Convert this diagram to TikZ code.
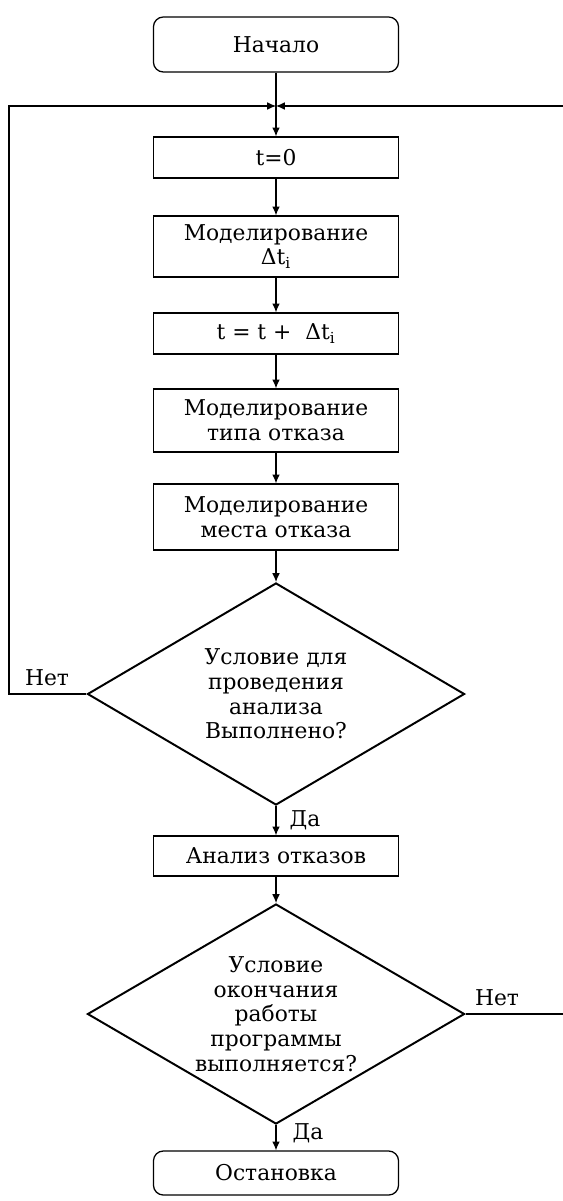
\documentclass[tikz,border=0pt]{standalone}
\usepackage{fontspec}
\setmainfont{DejaVu Serif}
\usetikzlibrary{arrows.meta,shapes.geometric}
\tikzset{
  block/.style={draw, line width=0.9pt, minimum width=6.125cm, align=center, inner sep=1pt},
  term/.style={block, rounded corners=7pt},
  decision/.style={diamond, aspect=1.7, draw, line width=1.4pt, minimum width=9.425cm,
    minimum height=5.5cm, align=center, inner sep=0pt},
  flow/.style={line width=0.75pt, -{Latex[length=2.2mm,width=1.9mm]}},
}
\begin{document}
\begin{tikzpicture}[x=0.025cm, y=-0.025cm, font=\fontsize{15.5}{17.5}\selectfont]
    \useasboundingbox (0,0) rectangle (563,1201);
    \clip (0,0) rectangle (563,1201);
    %%
    \node[term, minimum height=1.375cm] (start) at (276,44.5) {Начало};
    \node[block, minimum height=1.025cm] (tzero) at (276,157.5) {t=0};
    \node[block, minimum height=1.525cm] (simdt) at (276,246.5) {Моделирование\\Δt\textsubscript{i}};
    \node[block, minimum height=1.025cm] (tstep) at (276,333.5) {t = t +\ \ Δt\textsubscript{i}};
    \node[block, minimum height=1.575cm] (simtype) at (276,420.5) {Моделирование\\типа отказа};
    \node[block, minimum height=1.65cm] (simplace) at (276,517) {Моделирование\\места отказа};
    \node[decision, minimum height=5.55cm] (analyse) at (276,694) {Условие для\\проведения\\анализа\\Выполнено?};
    \node[block, minimum height=1.0cm] (faults) at (276,856) {Анализ отказов};
    \node[decision] (finish) at (276,1014) {Условие\\окончания\\работы\\программы\\выполняется?};
    \node[term, minimum height=1.1cm] (stop) at (276,1173) {Остановка};
    %%
    \coordinate (merge) at (276,106);
    \coordinate (loopL) at (9,106);
    \coordinate (loopR) at (570,106);
    %%
    \draw[flow] (start) -- (tzero);
    \draw[flow] (tzero) -- (simdt);
    \draw[flow] (simdt) -- (tstep);
    \draw[flow] (tstep) -- (simtype);
    \draw[flow] (simtype) -- (simplace);
    \draw[flow] (simplace) -- (analyse);
    \draw[flow] (analyse) -- (faults);
    \draw[flow] (faults) -- (finish);
    \draw[flow] (finish) -- (stop);
    \draw[flow] (analyse.west) -| (loopL) -- (merge);
    \draw[flow] (finish.east) -| (loopR) -- (merge);
    %%
    \node (noA) at (47,678) {Нет};
    \node (noB) at (497,998) {Нет};
    \node (yesA) at (305,820) {Да};
    \node (yesB) at (308,1133) {Да};
\end{tikzpicture}
\end{document}
